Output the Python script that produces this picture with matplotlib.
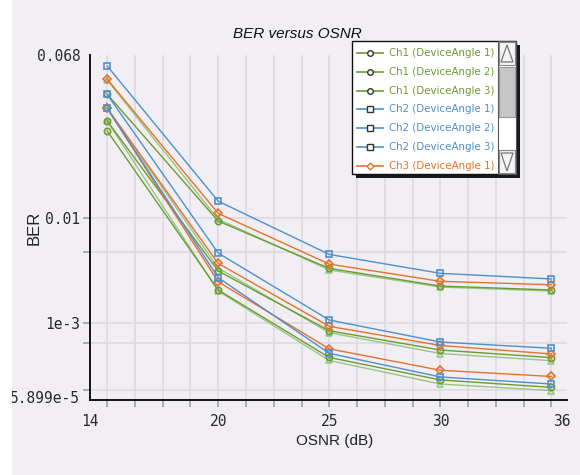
import math
import numpy as np
import matplotlib
matplotlib.use("Agg")
import matplotlib.pyplot as plt
from matplotlib import font_manager as fm
from matplotlib.lines import Line2D
from matplotlib.patches import Rectangle, Polygon

# ---------------- data ----------------
osnr = [15, 20, 25, 30, 35]
angles = ["DeviceAngle 1", "DeviceAngle 2", "DeviceAngle 3"]
channels = ["Ch1", "Ch2", "Ch3", "Ch4"]

ber_ch1_a1 = [0.0486, 0.00954, 0.00383, 0.00257, 0.00234]
ber_ch1_a2 = [0.0372, 0.00362, 0.000788, 0.000433, 0.000336]
ber_ch1_a3 = [0.0334, 0.00234, 0.000338, 0.000151, 0.000113]
ber_ch2_a1 = [0.0623, 0.0132, 0.00513, 0.00344, 0.00303]
ber_ch2_a2 = [0.0485, 0.00527, 0.001073, 0.000559, 0.000458]
ber_ch2_a3 = [0.0424, 0.00312, 0.000388, 0.000169, 0.000129]
ber_ch3_a1 = [0.0557, 0.01086, 0.00420, 0.00287, 0.00265]
ber_ch3_a2 = [0.0424, 0.00426, 0.000897, 0.000501, 0.000380]
ber_ch3_a3 = [0.0424, 0.00284, 0.000450, 0.000216, 0.000172]
ber_ch4_a1 = [0.0552, 0.00985, 0.00370, 0.00251, 0.00228]
ber_ch4_a2 = [0.0424, 0.00386, 0.000744, 0.000386, 0.000303]
ber_ch4_a3 = [0.0372, 0.00228, 0.000305, 0.000129, 0.0000995]

series = {
    "Ch1": [ber_ch1_a1, ber_ch1_a2, ber_ch1_a3],
    "Ch2": [ber_ch2_a1, ber_ch2_a2, ber_ch2_a3],
    "Ch3": [ber_ch3_a1, ber_ch3_a2, ber_ch3_a3],
    "Ch4": [ber_ch4_a1, ber_ch4_a2, ber_ch4_a3],
}

y_tick_vals = [0.068, 0.01, 1e-3, 7.7e-5]
y_tick_labels = ["0.068", "0.01", "1e-3", "5.899e-5"]
y_minor_vals = [0.01, 0.0054, 1e-3, 0.00054, 1e-4]
x_tick_pos = [14.23, 20, 25, 30, 35.48]
x_tick_labels = ["14", "20", "25", "30", "36"]

# ---------------- style ----------------
colors = {"Ch1": "#6f9a34", "Ch2": "#4f8fcc", "Ch3": "#e5722c", "Ch4": "#97c784"}
markers = {"Ch1": "o", "Ch2": "s", "Ch3": "D", "Ch4": "^"}
BG = "#f1eff3"
GRID = "#dcdadd"
W, H = 580, 475

# Q-factor (dB) BER scale
_qg = np.linspace(0.3, 8.5, 6000)
_lb = np.array([-math.log10(0.5 * math.erfc(q / math.sqrt(2))) for q in _qg])
_qdb = 20 * np.log10(_qg)


def fwd(b):
    b = np.clip(np.asarray(b, dtype=float), 1e-16, 0.38)
    return -np.interp(-np.log10(b), _lb, _qdb)


def inv(v):
    v = np.asarray(v, dtype=float)
    return 10 ** (-np.interp(-v, _qdb, _lb))


fig = plt.figure(figsize=(W / 100, H / 100), dpi=100, facecolor=BG)
L, R, T, B = 90, 567, 55, 400
ax = fig.add_axes([L / W, 1 - B / H, (R - L) / W, (B - T) / H])
ax.set_facecolor(BG)
ax.set_yscale("function", functions=(fwd, inv))
ax.set_xlim(14.36, 35.70)
ax.set_ylim(6.76e-5, 0.068)

for s in ["top", "right"]:
    ax.spines[s].set_visible(False)
for s in ["left", "bottom"]:
    ax.spines[s].set_color("#111111")
    ax.spines[s].set_linewidth(1.4)

# grid
x_minor = list(np.arange(15, 35.01, 1.25))
for xv in x_minor:
    ax.axvline(xv, color=GRID, lw=1.1, zorder=0)
for yv in y_minor_vals:
    ax.axhline(yv, color=GRID, lw=1.1, zorder=0)

# ticks
ax.xaxis.remove_overlapping_locs = False
ax.yaxis.remove_overlapping_locs = False
ax.set_xticks(x_tick_pos)
ax.set_xticklabels(x_tick_labels)
ax.set_xticks(x_minor, minor=True)
ax.set_yticks(y_tick_vals)
ax.set_yticklabels(y_tick_labels)
ax.set_yticks(y_minor_vals, minor=True)
ax.yaxis.set_minor_formatter(matplotlib.ticker.NullFormatter())
ax.xaxis.set_minor_formatter(matplotlib.ticker.NullFormatter())
ax.tick_params(axis="both", which="major", length=0, labelsize=10.5,
               labelcolor="#2a2a2a")
ax.tick_params(axis="x", which="major", pad=10)
ax.tick_params(axis="y", which="major", pad=7)
ax.tick_params(axis="both", which="minor", length=5, color="#9a9a9a", width=1.1)
for lab in ax.get_xticklabels() + ax.get_yticklabels():
    lab.set_family("DejaVu Sans Mono")

# data lines
order = ["Ch4", "Ch1", "Ch3", "Ch2"]
for ch in order:
    for vals in series[ch]:
        ax.plot(osnr, vals, color=colors[ch], lw=1.0, marker=markers[ch],
                ms=4.5 if markers[ch] != "D" else 4, mfc="none",
                mec=colors[ch], mew=1.2, zorder=3)

fig.text(335 / W, 1 - 441 / H, "OSNR (dB)", ha="center", va="center",
         family="Liberation Sans", fontsize=11, color="#222222")
fig.text(34 / W, 1 - 228 / H, "BER", rotation=90, ha="center", va="center",
         family="Liberation Sans", fontsize=12, color="#222222")
fig.text(297 / W, 1 - 34 / H, "BER versus OSNR", ha="center", va="center",
         family="Liberation Sans", style="italic", fontsize=11, color="#111111")


# ---------------- legend (scrolling box, first 7 entries visible) ----------
def fx(x):
    return x / W


def fy(y):
    return 1 - y / H


def rect(x0, y0, x1, y1, **kw):
    r = Rectangle((fx(x0), fy(y1)), fx(x1) - fx(x0), fy(y0) - fy(y1),
                  transform=fig.transFigure, **kw)
    fig.add_artist(r)


# choose a narrow font if one is installed
leg_family = "Liberation Sans"
leg_stretch = "normal"
for f in fm.fontManager.ttflist:
    nm = f.name
    if f.style == "normal" and str(f.weight) in ("400", "normal"):
        if "Narrow" in nm or "Condensed" in nm:
            leg_family = nm
            break
        if str(f.stretch) in ("condensed", "semi-condensed") and nm in (
                "Liberation Sans", "DejaVu Sans", "Roboto", "Open Sans", "Noto Sans"):
            leg_family = nm
            leg_stretch = f.stretch
            break

lx0, ly0, lx1, ly1, sx1 = 352, 41, 498, 174, 516
rect(lx0 + 4, ly0 + 4, sx1 + 4, ly1 + 4, facecolor="#1a1a1a", edgecolor="none", zorder=20)
rect(lx0, ly0, sx1, ly1, facecolor="white", edgecolor="#111111", lw=1.0, zorder=21)
rect(lx1, ly0, sx1, ly1, facecolor="white", edgecolor="#555555", lw=0.8, zorder=22)
rect(lx1 + 1, ly0 + 1, sx1 - 1, 65, facecolor="#f4f4f4", edgecolor="#888888", lw=0.8, zorder=23)
rect(lx1 + 1, 67, sx1 - 1, 117, facecolor="#c6c6c6", edgecolor="#9a9a9a", lw=0.8, zorder=23)
rect(lx1 + 1, 150, sx1 - 1, ly1 - 1, facecolor="#f4f4f4", edgecolor="#888888", lw=0.8, zorder=23)
fig.add_artist(Polygon([(fx(507), fy(45)), (fx(501), fy(62)), (fx(513), fy(62))],
                       closed=True, fill=False, edgecolor="#777777", lw=0.9,
                       transform=fig.transFigure, zorder=24))
fig.add_artist(Polygon([(fx(501), fy(153)), (fx(513), fy(153)), (fx(507), fy(171))],
                       closed=True, fill=False, edgecolor="#777777", lw=0.9,
                       transform=fig.transFigure, zorder=24))

legend_items = []
for ch in channels:
    for a in angles:
        legend_items.append((ch, a))
row_y0, row_dy = 52.7, 18.9
leg_texts = []
for i, (ch, a) in enumerate(legend_items[:7]):
    yy = row_y0 + i * row_dy
    fig.add_artist(Line2D([fx(357), fx(383)], [fy(yy), fy(yy)], color=colors[ch], lw=1.2,
                          transform=fig.transFigure, zorder=25))
    fig.add_artist(Line2D([fx(370)], [fy(yy)], color=colors[ch], marker=markers[ch],
                          ms=4 if markers[ch] != "D" else 3.5, mfc="white",
                          mec="#333333" if ch != "Ch3" else colors[ch], mew=1.0,
                          transform=fig.transFigure, zorder=26))
    t = fig.text(fx(389), fy(yy), f"{ch} ({a})", ha="left", va="center",
                 family=leg_family, stretch=leg_stretch, fontsize=10,
                 color=colors[ch], zorder=26)
    leg_texts.append(t)

# fit the legend text into the visible area (width ~105 px)
fig.canvas.draw()
rend = fig.canvas.get_renderer()
wmax = max(t.get_window_extent(rend).width for t in leg_texts)
if wmax > 106:
    fs = 10 * 105.0 / wmax
    for t in leg_texts:
        t.set_fontsize(fs)

# white strip on the far left
rect(0, 0, 12, H, facecolor="white", edgecolor="none", zorder=30)

fig.savefig("out.png", dpi=100, facecolor=BG)
